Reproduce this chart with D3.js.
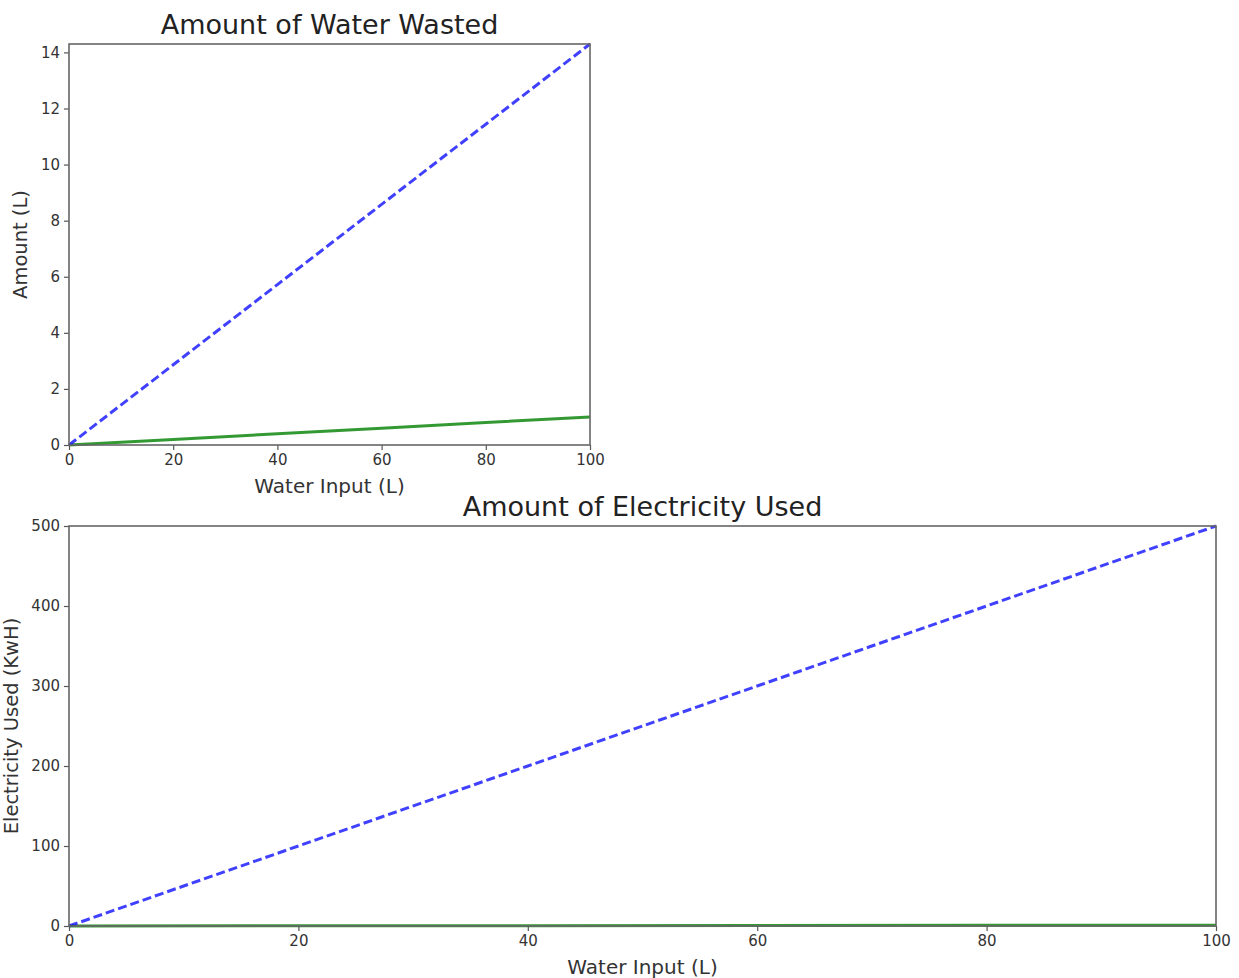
<!DOCTYPE html>
<html lang="en">
<head>
  <meta charset="UTF-8">
  <title>water / electricity</title>
  <script src="https://cdn.jsdelivr.net/npm/d3@7"></script>
  <style>
    body { margin: 0; background: #fff; }
    svg { display: block; font-family: "DejaVu Sans", sans-serif; }
  </style>
</head>
<body>
<svg></svg>
<script>
  // water input (L)
  const waterInput = [0, 20, 40, 60, 80, 100]
  // top chart: amount wasted
  const wastedDashed = [0, 2.86, 5.72, 8.58, 11.44, 14.3]
  const wastedSolid = [0, 0.2, 0.4, 0.6, 0.8, 1.0]
  const wastedTicks = [0, 2, 4, 6, 8, 10, 12, 14]
  // bottom chart: electricity used
  const elecDashed = [0, 100, 200, 300, 400, 500]
  const elecSolid = [0, 0.2, 0.4, 0.6, 0.8, 1.0]
  const elecTicks = [0, 100, 200, 300, 400, 500]
  const xTicks = [0, 20, 40, 60, 80, 100]

  const width = 1239, height = 978
  const svg = d3.select('svg')
      .attr('width', width)
      .attr('height', height)

  function panel(box, yMax, yTicks, dashed, solid, title, yTitle, yTitleX) {
    const x = d3.scaleLinear().domain([0, 100]).range([box.left, box.right])
    const y = d3.scaleLinear().domain([0, yMax]).range([box.bottom, box.top])
    const g = svg.append('g')

    const line = vals => d3.line()
        .x((d, i) => x(waterInput[i]))
        .y(d => y(d))(vals)

    g.append('path')
        .attr('d', line(solid))
        .attr('fill', 'none')
        .attr('stroke', '#008000')
        .attr('stroke-width', 3)
        .attr('opacity', 0.8)

    g.append('path')
        .attr('d', line(dashed))
        .attr('fill', 'none')
        .attr('stroke', '#0000ff')
        .attr('stroke-width', 3)
        .attr('stroke-dasharray', '9,4')
        .attr('opacity', 0.75)

    // axes
    const xa = g.append('g')
        .attr('transform', `translate(0,${box.bottom})`)
        .call(d3.axisBottom(x).tickValues(xTicks).tickSizeInner(5).tickSizeOuter(0).tickPadding(4))
    const ya = g.append('g')
        .attr('transform', `translate(${box.left},0)`)
        .call(d3.axisLeft(y).tickValues(yTicks).tickSizeInner(5).tickSizeOuter(0).tickPadding(4))
    ;[xa, ya].forEach(a => {
      a.select('.domain').remove()
      a.selectAll('line').attr('stroke', '#555').attr('stroke-width', 1.2)
      a.selectAll('text').attr('fill', '#333').style('font-size', '15px')
          .style('font-family', '"DejaVu Sans", sans-serif')
    })

    // frame
    g.append('rect')
        .attr('x', box.left)
        .attr('y', box.top)
        .attr('width', box.right - box.left)
        .attr('height', box.bottom - box.top)
        .attr('fill', 'none')
        .attr('stroke', '#666')
        .attr('stroke-width', 1.6)

    g.append('text')
        .attr('x', (box.left + box.right) / 2)
        .attr('y', box.top - 10)
        .attr('text-anchor', 'middle')
        .attr('fill', '#222')
        .style('font-size', '27px')
        .text(title)

    g.append('text')
        .attr('x', (box.left + box.right) / 2)
        .attr('y', box.bottom + 48)
        .attr('text-anchor', 'middle')
        .attr('fill', '#333')
        .style('font-size', '20px')
        .text('Water Input (L)')

    g.append('text')
        .attr('transform', `translate(${yTitleX},${(box.top + box.bottom) / 2}) rotate(-90)`)
        .attr('text-anchor', 'middle')
        .attr('fill', '#333')
        .style('font-size', '19.5px')
        .text(yTitle)
  }

  panel({left: 69, right: 590, top: 44, bottom: 445}, 14.3, wastedTicks, wastedDashed, wastedSolid,
      'Amount of Water Wasted', 'Amount (L)', 27)
  panel({left: 69, right: 1216, top: 526, bottom: 926}, 500, elecTicks, elecDashed, elecSolid,
      'Amount of Electricity Used', 'Electricity Used (KwH)', 18)
</script>
</body>
</html>
